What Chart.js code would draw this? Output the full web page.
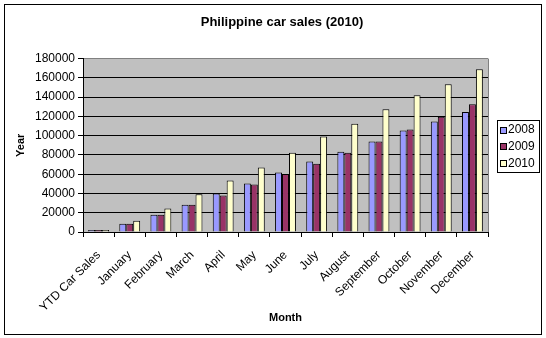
<!DOCTYPE html>
<html>
<head>
<meta charset="utf-8">
<script src="https://cdn.jsdelivr.net/npm/chart.js@4"></script>
<style>
  body { margin: 0; background: #fff; }
</style>
</head>
<body>
<canvas id="salesChart" width="546" height="338"></canvas>
<script>
const months = ['YTD Car Sales', 'January', 'February', 'March', 'April', 'May', 'June',
  'July', 'August', 'September', 'October', 'November', 'December'];
const sales2008 = [2000, 8600, 18000, 28400, 39900, 50300, 61700, 73200, 83200, 94000, 105400, 114800, 124500];
const sales2009 = [2000, 8600, 18000, 28400, 37800, 49200, 60300, 70800, 82200, 94000, 106400, 119700, 132500];
const sales2010 = [2000, 11800, 24300, 39200, 53400, 67000, 82200, 99200, 112400, 127300, 141900, 153300, 168900];
const seriesNames = ['2008', '2009', '2010'];
const seriesColors = ['#9999FF', '#993366', '#FFFFCC'];

Chart.defaults.font.family = "'Liberation Sans', Arial, sans-serif";
Chart.defaults.color = '#000';

// grey plot area, its border and the outer frame
const plotBackground = {
  id: 'plotBackground',
  afterLayout(chart) {
    // center the title over the plot area + axis labels rather than the whole canvas
    chart.titleBlock.left = 76;
    chart.titleBlock.right = 488;
  },
  beforeDraw(chart) {
    const {ctx, chartArea: a} = chart;
    ctx.save();
    ctx.fillStyle = '#C0C0C0';
    ctx.fillRect(a.left, a.top, a.right - a.left, a.bottom - a.top);
    ctx.restore();
  },
  afterDraw(chart) {
    const {ctx, chartArea: a} = chart;
    ctx.save();
    ctx.strokeStyle = '#808080';
    ctx.lineWidth = 1;
    ctx.beginPath();
    ctx.moveTo(a.right + 0.5, a.top);
    ctx.lineTo(a.right + 0.5, a.bottom);
    ctx.stroke();
    ctx.strokeStyle = '#000';
    ctx.strokeRect(4.5, 4.5, 537, 330);
    ctx.restore();
  }
};

// boxed legend on the right, like the spreadsheet one
const boxedLegend = {
  id: 'boxedLegend',
  afterDraw(chart) {
    const ctx = chart.ctx;
    const x = 497, y = 120, w = 42, h = 52;
    ctx.save();
    ctx.strokeStyle = '#000';
    ctx.lineWidth = 1;
    ctx.strokeRect(x + 0.5, y + 0.5, w, h);
    ctx.font = "12px 'Liberation Sans', Arial, sans-serif";
    ctx.textBaseline = 'middle';
    chart.data.datasets.forEach((ds, i) => {
      const cy = y + 9.5 + i * 16.7;
      ctx.fillStyle = ds.backgroundColor;
      ctx.fillRect(x + 3, Math.round(cy - 3), 6, 6);
      ctx.strokeRect(x + 3.5, Math.round(cy - 3) + 0.5, 6, 6);
      ctx.fillStyle = '#000';
      ctx.fillText(ds.label, x + 11, cy + 0.5);
    });
    ctx.restore();
  }
};

const datasets = [sales2008, sales2009, sales2010].map((values, i) => ({
  label: seriesNames[i],
  data: values,
  backgroundColor: seriesColors[i],
  borderColor: '#000',
  borderWidth: 1,
  categoryPercentage: 0.67,
  barPercentage: 1
}));

new Chart(document.getElementById('salesChart').getContext('2d'), {
  type: 'bar',
  data: { labels: months, datasets },
  options: {
    responsive: false,
    animation: false,
    layout: { padding: { top: 7, right: 58, left: 0, bottom: 0 } },
    plugins: {
      legend: { display: false },
      tooltip: { enabled: false },
      title: {
        display: true,
        text: 'Philippine car sales (2010)',
        font: { size: 13, weight: 'bold' },
        padding: { top: 8, bottom: 28 }
      }
    },
    scales: {
      x: {
        afterFit: scale => { scale.height = 106; },
        border: { color: '#000' },
        grid: { drawOnChartArea: false, drawTicks: true, tickLength: 5, color: '#000' },
        ticks: { minRotation: 45, maxRotation: 45, autoSkip: false, font: { size: 12 }, padding: 11 },
        title: { display: true, text: 'Month', font: { size: 11, weight: 'bold' }, padding: { bottom: 13 } }
      },
      y: {
        min: 0,
        max: 180000,
        afterFit: scale => { scale.width = 83; },
        border: { color: '#000' },
        grid: {
          color: ctx => ctx.tick && ctx.tick.value === 180000 ? '#808080' : '#000',
          tickColor: '#000',
          tickLength: 5
        },
        ticks: { stepSize: 20000, font: { size: 12 }, padding: 3, callback: v => String(v) },
        title: { display: true, text: 'Year', font: { size: 11, weight: 'bold' }, padding: { top: 14 } }
      }
    }
  },
  plugins: [plotBackground, boxedLegend]
});
</script>
</body>
</html>
